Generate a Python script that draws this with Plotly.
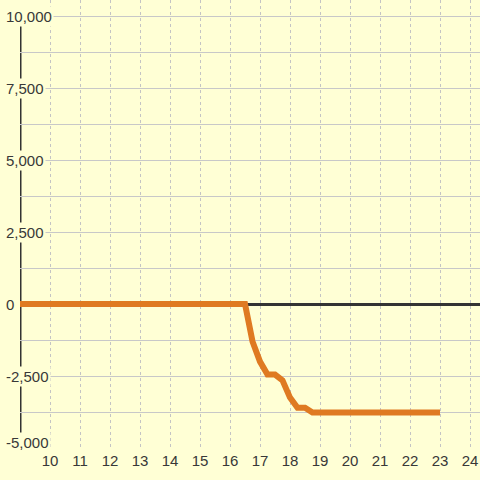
import plotly.graph_objects as go

# data
hours = [9, 16.5, 16.75, 17.0, 17.25, 17.5, 17.75, 18.0, 18.25, 18.5, 18.75, 23.0]
values = [0, 0, -1300, -2000, -2450, -2450, -2650, -3250, -3600, -3600, -3770, -3770]
x_ticks = [10, 11, 12, 13, 14, 15, 16, 17, 18, 19, 20, 21, 22, 23, 24]
y_label_vals = [10000, 7500, 5000, 2500, 0, -2500, -5000]
y_label_text = ["10,000", "7,500", "5,000", "2,500", "0", "-2,500", "-5,000"]

BG = "#FFFFD5"
TXT = "#383838"
FONT = "Liberation Sans, Arial, sans-serif"

fig = go.Figure()
fig.add_trace(go.Scatter(
    x=hours, y=values, mode="lines",
    line=dict(color="#DF7A22", width=6),
    hoverinfo="skip", showlegend=False,
))

# left axis line
fig.add_shape(type="line", xref="x", yref="y", x0=9, x1=9, y0=-5000, y1=10000,
              line=dict(color="#333333", width=3), layer="below")

for v, t in zip(y_label_vals, y_label_text):
    fig.add_annotation(
        xref="paper", yref="y", x=(4 - 20) / 460, y=v, text=t,
        xanchor="left", yanchor="middle", showarrow=False,
        yshift=6 if v == min(y_label_vals) else 0,
        bgcolor=BG, borderpad=1,
        font=dict(family=FONT, size=15, color=TXT),
    )

fig.update_layout(
    width=480, height=480,
    margin=dict(l=20, r=0, t=0, b=32),
    paper_bgcolor=BG, plot_bgcolor=BG,
    font=dict(family=FONT, size=15, color=TXT),
    xaxis=dict(
        range=[9, 9 + 460 / 30], tickvals=x_ticks,
        showgrid=True, gridcolor="#C4C4C4", gridwidth=1, griddash="dot",
        zeroline=False, showline=False, ticks="", ticklabelstandoff=2,
        tickfont=dict(family=FONT, size=15, color=TXT),
    ),
    yaxis=dict(
        range=[-5000, 10000 + 16 / 28.8 * 1000], tick0=0, dtick=1250,
        showticklabels=False, showgrid=True, gridcolor="#C8C8C8", gridwidth=1,
        zeroline=True, zerolinecolor="#333333", zerolinewidth=3,
        showline=False, ticks="",
    ),
)

fig.write_html(
    "out.html",
    config={"displayModeBar": False},
    post_script="document.body.style.margin='0';document.body.style.background='" + BG + "';",
)
